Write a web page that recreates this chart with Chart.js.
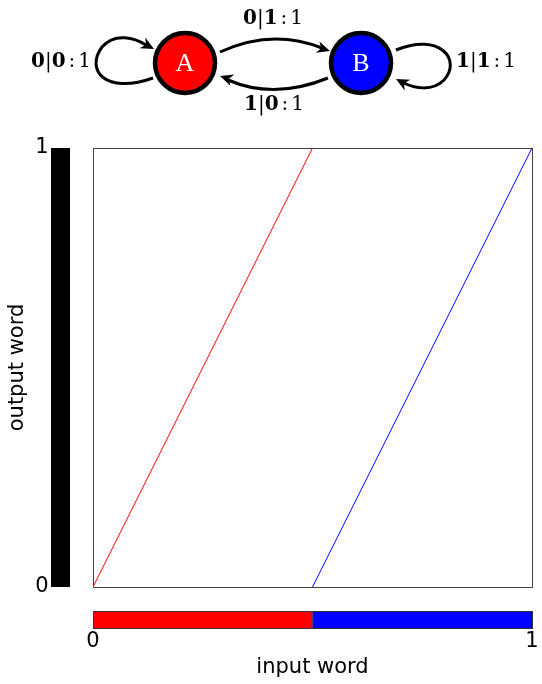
<!DOCTYPE html>
<html>
<head>
<meta charset="utf-8">
<script src="https://cdn.jsdelivr.net/npm/chart.js@4/dist/chart.umd.min.js"></script>
<style>
  html, body { margin: 0; padding: 0; background: #fff; }
  canvas { display: block; }
</style>
</head>
<body>
<canvas id="chart" width="542" height="684"></canvas>
<script>
// states of the transducer and where each one starts on the input axis
var states = ['A', 'B'];
var stateStart = [0, 0.5];
var stateEnd = [0.5, 1];
// graph of the map, one piece per state
var redPiece = [{x: 0, y: 0}, {x: 0.5, y: 1}];
var bluePiece = [{x: 0.5, y: 0}, {x: 1, y: 1}];
var tickValues = [0, 1];
var tickLabels = ['0', '1'];
var xTitle = 'input word';
var yTitle = 'output word';

var stateColors = ['#ff0000', '#0000ff'];
var sans = '"DejaVu Sans", sans-serif';
var serif = '"DejaVu Serif", serif';

// draw a label like 0|1:1 with bold digits; colon gets some room on both sides
function mixedLabel(ctx, parts, cx, cy) {
  var size = 20;
  var gap = 3;
  function fontFor(p) { return (p[1] ? 'bold ' : '') + size + 'px ' + serif; }
  function widthOf(p) {
    ctx.font = fontFor(p);
    return ctx.measureText(p[0]).width + (p[0] === ':' ? gap * 2 : 0);
  }
  var w = 0;
  parts.forEach(function (p) { w += widthOf(p); });
  var x = cx - w / 2;
  ctx.textAlign = 'left';
  ctx.textBaseline = 'middle';
  ctx.fillStyle = '#000';
  parts.forEach(function (p) {
    var pw = widthOf(p);
    ctx.font = fontFor(p);
    ctx.fillText(p[0], x + (p[0] === ':' ? gap : 0), cy);
    x += pw;
  });
}

function arrowHead(ctx, x, y, angle) {
  var len = 13, half = 6;
  ctx.save();
  ctx.translate(x, y);
  ctx.rotate(angle);
  ctx.beginPath();
  ctx.moveTo(0, 0);
  ctx.lineTo(-len, -half);
  ctx.lineTo(-len * 0.7, 0);
  ctx.lineTo(-len, half);
  ctx.closePath();
  ctx.fillStyle = '#000';
  ctx.fill();
  ctx.restore();
}

var decor = {
  id: 'decor',
  beforeDatasetsDraw: function (chart) {
    var ctx = chart.ctx;
    var xs = chart.scales.x, ys = chart.scales.y;
    var a = chart.chartArea;
    ctx.save();
    // output bar on the left
    ctx.fillStyle = '#000';
    ctx.fillRect(51, ys.getPixelForValue(1), 19, ys.getPixelForValue(0) - ys.getPixelForValue(1));
    // state bar under the plot
    var top = 611, h = 17;
    states.forEach(function (s, i) {
      var x0 = xs.getPixelForValue(stateStart[i]);
      var x1 = xs.getPixelForValue(stateEnd[i]);
      ctx.fillStyle = stateColors[i];
      ctx.fillRect(x0, top, x1 - x0, h);
    });
    ctx.strokeStyle = '#333';
    ctx.lineWidth = 1;
    ctx.strokeRect(xs.getPixelForValue(0) + 0.5, top + 0.5, xs.getPixelForValue(1) - xs.getPixelForValue(0), h);
    ctx.beginPath();
    ctx.moveTo(xs.getPixelForValue(0.5) + 0.5, top);
    ctx.lineTo(xs.getPixelForValue(0.5) + 0.5, top + h);
    ctx.stroke();
    // plot frame
    ctx.strokeStyle = '#444';
    ctx.strokeRect(a.left + 0.5, a.top + 0.5, a.right - a.left, a.bottom - a.top);
    // tick labels
    ctx.fillStyle = '#000';
    ctx.font = '21px ' + sans;
    ctx.textAlign = 'center';
    ctx.textBaseline = 'middle';
    tickValues.forEach(function (v, i) {
      ctx.fillText(tickLabels[i], 42, ys.getPixelForValue(v));
      ctx.fillText(tickLabels[i], xs.getPixelForValue(v), 642);
    });
    ctx.fillText(xTitle, (a.left + a.right) / 2, 668);
    ctx.save();
    ctx.translate(18, (a.top + a.bottom) / 2);
    ctx.rotate(-Math.PI / 2);
    ctx.fillText(yTitle, 0, 0);
    ctx.restore();

    // automaton diagram
    var A = {x: 185, y: 63}, B = {x: 361, y: 63}, r = 30;
    ctx.strokeStyle = '#000';
    ctx.lineWidth = 3;
    // A -> B
    ctx.beginPath();
    ctx.moveTo(220, 52);
    ctx.quadraticCurveTo(272, 28, 322, 48);
    ctx.stroke();
    arrowHead(ctx, 330, 51, Math.atan2(48 - 28, 322 - 272) * 0.8);
    // B -> A
    ctx.beginPath();
    ctx.moveTo(328, 78);
    ctx.quadraticCurveTo(274, 100, 228, 80);
    ctx.stroke();
    arrowHead(ctx, 220, 76, Math.PI + Math.atan2(100 - 80, 274 - 228) * 0.8);
    // loop on A
    ctx.beginPath();
    ctx.moveTo(153, 78);
    ctx.bezierCurveTo(105, 95, 85, 70, 102, 47);
    ctx.bezierCurveTo(115, 32, 135, 38, 146, 45);
    ctx.stroke();
    arrowHead(ctx, 154, 49, Math.atan2(49 - 40, 154 - 137));
    // loop on B
    ctx.beginPath();
    ctx.moveTo(396, 50);
    ctx.bezierCurveTo(440, 32, 462, 60, 444, 80);
    ctx.bezierCurveTo(432, 92, 414, 88, 404, 83);
    ctx.stroke();
    arrowHead(ctx, 396, 79, Math.atan2(79 - 88, 396 - 413));
    // state circles
    [A, B].forEach(function (p, i) {
      ctx.beginPath();
      ctx.arc(p.x, p.y, r, 0, Math.PI * 2);
      ctx.fillStyle = stateColors[i];
      ctx.fill();
      ctx.lineWidth = 4.5;
      ctx.strokeStyle = '#000';
      ctx.stroke();
      ctx.fillStyle = '#fff';
      ctx.font = '26px "Liberation Serif", serif';
      ctx.textAlign = 'center';
      ctx.textBaseline = 'middle';
      ctx.fillText(states[i], p.x, p.y + 1);
    });
    mixedLabel(ctx, [['0', true], ['|', false], ['1', true], [':', false], ['1', false]], 273, 19);
    mixedLabel(ctx, [['1', true], ['|', false], ['0', true], [':', false], ['1', false]], 274, 105);
    mixedLabel(ctx, [['0', true], ['|', false], ['0', true], [':', false], ['1', false]], 61, 62);
    mixedLabel(ctx, [['1', true], ['|', false], ['1', true], [':', false], ['1', false]], 486, 62);
    ctx.restore();
  }
};

new Chart(document.getElementById('chart'), {
  type: 'scatter',
  data: {
    datasets: [
      {data: redPiece, showLine: true, borderColor: stateColors[0], borderWidth: 1, pointRadius: 0},
      {data: bluePiece, showLine: true, borderColor: stateColors[1], borderWidth: 1, pointRadius: 0}
    ]
  },
  options: {
    responsive: false,
    animation: false,
    layout: {padding: {left: 93, top: 148, right: 10, bottom: 97}},
    plugins: {legend: {display: false}, tooltip: {enabled: false}},
    scales: {
      x: {type: 'linear', min: 0, max: 1, display: false},
      y: {type: 'linear', min: 0, max: 1, display: false}
    }
  },
  plugins: [decor]
});
</script>
</body>
</html>
